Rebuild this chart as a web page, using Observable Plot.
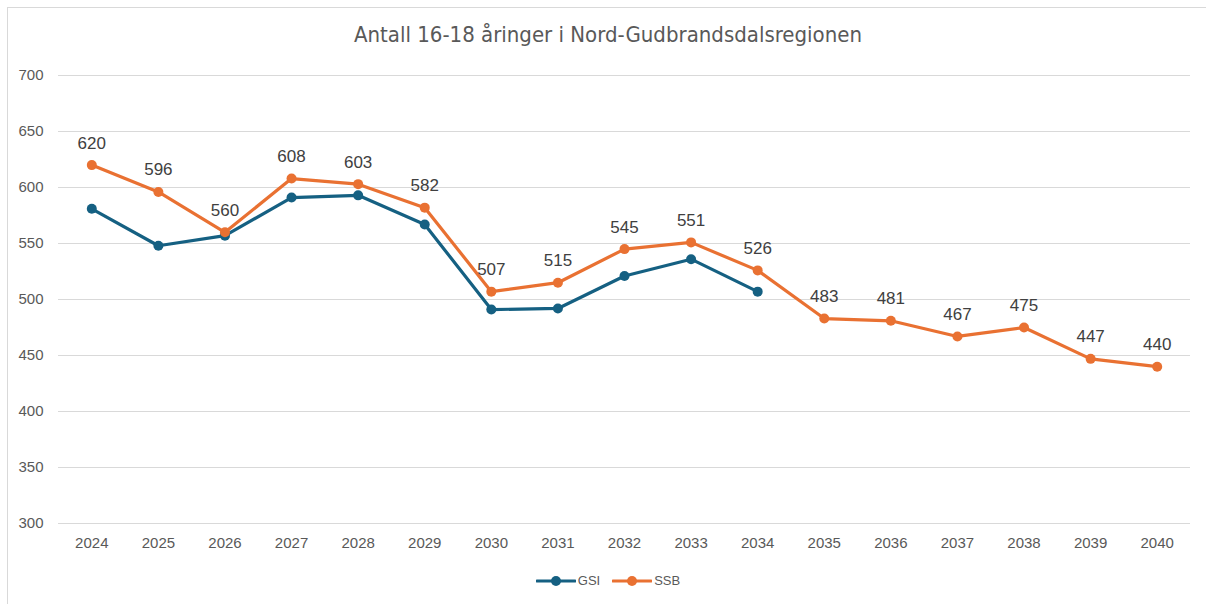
<!DOCTYPE html>
<html><head><meta charset="utf-8">
<script src="https://cdn.jsdelivr.net/npm/d3@7"></script>
<script src="https://cdn.jsdelivr.net/npm/@observablehq/plot@0.6"></script>
<style>
body{margin:0;background:#fff;font-family:"Liberation Sans",Arial,sans-serif;}
#wrap{position:relative;width:1206px;height:604px;overflow:hidden;}
#frame{position:absolute;left:7px;top:7px;width:1200px;height:610px;border:1px solid #d9d9d9;box-sizing:border-box;}
#title{position:absolute;left:0;top:22px;width:1216px;text-align:center;font-family:"Liberation Sans Narrow","DejaVu Sans Condensed",sans-serif;font-size:22px;color:#595959;}
#chart{position:absolute;left:0;top:55px;}
#legend{position:absolute;top:573px;left:0;width:1216px;display:flex;justify-content:center;gap:12px;font-size:13px;color:#595959;}
.item{display:flex;align-items:center;gap:2px;}
</style></head>
<body><div id="wrap"><div id="frame"></div><div id="title">Antall 16-18 åringer i Nord-Gudbrandsdalsregionen</div><div id="chart"></div><div id="legend"></div></div>
<script>
const years = [2024,2025,2026,2027,2028,2029,2030,2031,2032,2033,2034,2035,2036,2037,2038,2039,2040];
const gsi = [581,548,557,591,593,567,491,492,521,536,507];
const ssb = [620,596,560,608,603,582,507,515,545,551,526,483,481,467,475,447,440];
const yTicks = [300,350,400,450,500,550,600,650,700];
const seriesNames = ["GSI","SSB"];
const colors = ["#156082","#E97132"];

const data = [];
gsi.forEach((v,i)=>data.push({year:String(years[i]),value:v,series:"GSI"}));
ssb.forEach((v,i)=>data.push({year:String(years[i]),value:v,series:"SSB"}));
const ssbData = data.filter(d=>d.series==="SSB");

const plot = Plot.plot({
  width:1206, height:510,
  marginTop:20, marginBottom:42, marginLeft:58, marginRight:16,
  style:{fontFamily:"Liberation Sans, Arial, sans-serif", fontSize:"15px", color:"#595959", background:"transparent"},
  x:{type:"point", domain:years.map(String), padding:0.5, round:false, label:null},
  y:{domain:[300,700], label:null},
  color:{domain:seriesNames, range:colors},
  marks:[
    Plot.gridY(yTicks,{stroke:"#d9d9d9",strokeOpacity:1,strokeWidth:1.2}),
    Plot.axisY(yTicks,{tickSize:0,tickPadding:15,fontSize:15,fill:"#595959",label:null}),
    Plot.axisX({tickSize:0,tickPadding:14,fontSize:15,fill:"#595959",label:null}),
    Plot.line(data,{x:"year",y:"value",z:"series",stroke:"series",strokeWidth:3.2,strokeLinejoin:"round"}),
    Plot.dot(data,{x:"year",y:"value",fill:"series",r:5,stroke:"none"}),
    Plot.text(ssbData,{x:"year",y:"value",text:d=>String(d.value),dy:-22,fontSize:17,fill:"#404040"})
  ]
});
document.getElementById("chart").appendChild(plot);

const leg = document.getElementById("legend");
seriesNames.forEach((s,i)=>{
  const it = document.createElement("div"); it.className="item";
  it.innerHTML = `<svg width="40" height="12"><line x1="1" y1="6" x2="39" y2="6" stroke="${colors[i]}" stroke-width="3.2" stroke-linecap="round"/><circle cx="20" cy="6" r="5" fill="${colors[i]}"/></svg><span>${s}</span>`;
  leg.appendChild(it);
});
</script></body></html>
